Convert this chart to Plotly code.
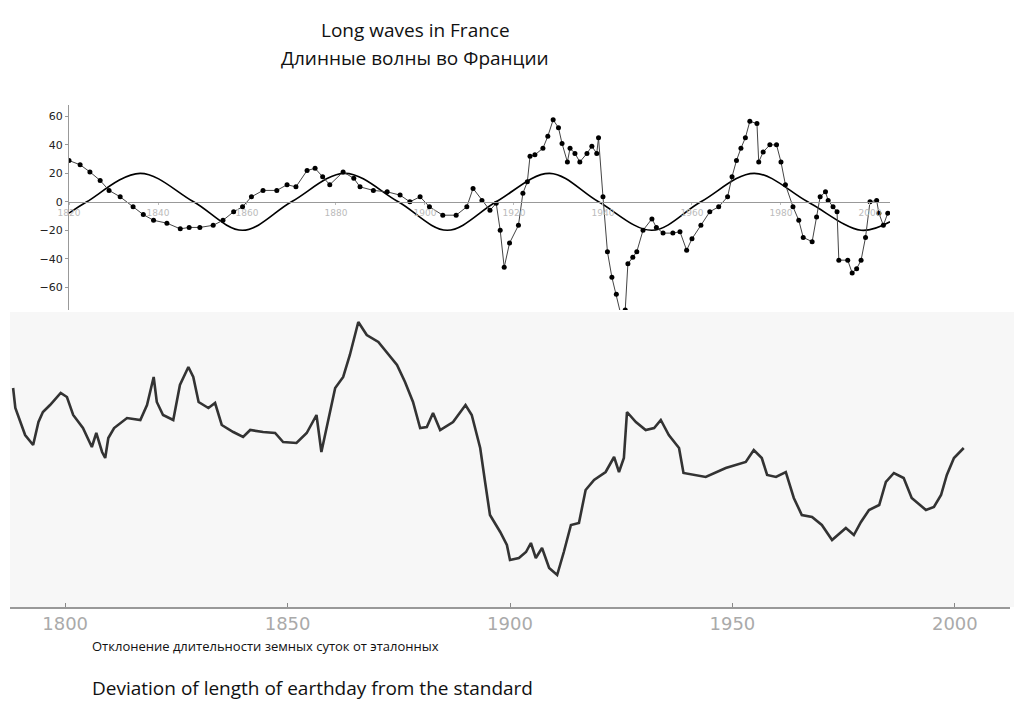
import plotly.graph_objects as go

W, H = 1006, 692  # page keeps an 8px margin round the figure
OFF = 8

# top chart: long waves in France
fr_years = [1820, 1822.5, 1824.7, 1827, 1829, 1831.5, 1834.4, 1836.7, 1839, 1842, 1845, 1847, 1849.4,
            1852.4, 1854.6, 1857, 1859, 1861, 1863.6, 1866.7, 1869, 1871, 1873.5, 1875.3, 1877, 1878.6,
            1881.6, 1884, 1885.4, 1888.4, 1891.5, 1894.4, 1896.6, 1898.9, 1901, 1904, 1907, 1909.4,
            1910.8, 1912.8, 1914.6, 1916, 1916.9, 1917.8, 1919, 1921, 1922, 1923, 1923.6, 1924.7, 1926.5,
            1927.6, 1928.8, 1930, 1930.8, 1932, 1932.6, 1933.7, 1934.8, 1936.4, 1937.5, 1938.6, 1939,
            1940, 1941, 1942, 1943, 1944, 1945, 1945.6, 1946.7, 1947.6, 1949, 1951, 1952, 1953.5, 1955.7,
            1957.3, 1958.8, 1960, 1962, 1964, 1966, 1968, 1969, 1970, 1971, 1972, 1973, 1974.6, 1975,
            1976, 1977.5, 1979, 1980, 1981, 1982.7, 1984, 1985, 1987, 1988, 1988.8, 1990, 1990.6, 1991.7,
            1992.6, 1993, 1995, 1996, 1997, 1998, 1999, 2000, 2001.5, 2002, 2003, 2004]
fr_values = [29, 26, 21, 15, 8, 3.5, -3.5, -9, -13, -15, -19, -18, -18,
             -16.5, -13, -7, -3.5, 3.5, 8, 8, 12, 10.5, 22, 23.5, 17.6, 12,
             21, 16.5, 10.5, 8, 7, 4.7, 0, 3.5, -3.5, -9.4, -9.4, -3.5,
             9.4, 1, -6, -1, -20, -46, -29, -16.5, 6, 14, 32, 33, 37.6,
             46, 57.6, 52, 41, 28, 37.6, 34, 28, 34, 39, 34, 45,
             3.5, -35, -53, -65, -79, -76, -43.5, -39, -35, -20, -12, -18, -22, -22,
             -21, -34, -26, -16.5, -7, -3.5, 3.5, 17.6, 29, 37.6, 45, 56.5, 55, 28,
             35, 40, 40, 28, 12, -3.5, -13, -25, -28, -10.6, 3.5, 7, 1, -3.5,
             -7, -41, -41, -50, -47, -41, -25, 0, 1, -8, -16.5, -8]

# fitted wave, read at its extremes and zero crossings
wave_years = [1820, 1824, 1836, 1848, 1859, 1870, 1882, 1894, 1905, 1916, 1928, 1939, 1951, 1962,
              1974, 1986, 1998, 2004.5]
wave_values = [-8, 0, 20, 0, -20, 0, 20, 0, -20, 0, 20, 0, -20, 0, 20, 0, -20, -14]

# bottom chart: length-of-day deviation (arbitrary units)
lod_years = [1788.3, 1788.8, 1791, 1792.8, 1794, 1795, 1796.6, 1799, 1800.4, 1801.8, 1804, 1806, 1807,
             1808.3, 1809, 1809.7, 1811, 1813.9, 1816.9, 1818.4, 1819.9, 1820.6, 1822, 1824.3, 1825.8,
             1827.7, 1828.8, 1830, 1832.2, 1833.7, 1835.2, 1837.8, 1840, 1841.6, 1844.5, 1847.2, 1849,
             1852, 1854.3, 1856.5, 1857.6, 1859, 1860.7, 1862.5, 1864, 1865.9, 1867.8, 1870.4, 1872.4,
             1874.6, 1876.4, 1878.2, 1879.8, 1881.3, 1882.7, 1884.3, 1887.2, 1890, 1891.4, 1893.3,
             1894.4, 1895.5, 1897.8, 1899.3, 1900, 1902, 1903.6, 1904.7, 1905.8, 1907.2, 1908.8, 1910.6,
             1912.1, 1913.7, 1915.5, 1917, 1918.9, 1921.5, 1923.4, 1924.5, 1925.6, 1926.3, 1928.3,
             1930.5, 1932.4, 1933.9, 1935.7, 1938, 1939, 1944, 1948.5, 1953, 1954.8, 1956.6, 1957.8,
             1959.8, 1962, 1963.8, 1965.6, 1967.9, 1970.1, 1972.4, 1975.5, 1977.3, 1978.9, 1980.7, 1983,
             1984.5, 1986.3, 1988.5, 1990.3, 1993.5, 1995.3, 1996.9, 1998.2, 1999.8, 2002]
lod_values = [219, 199, 172, 162, 185, 195, 202, 214, 210, 192, 179, 160, 174,
              155, 149, 169, 179, 189, 187, 202, 230, 205, 192, 187, 222,
              240, 230, 205, 199, 204, 182, 175, 170, 177, 175, 174, 165,
              164, 174, 192, 155, 185, 219, 230, 252, 285, 272, 265, 254,
              242, 225, 205, 179, 180, 194, 177, 185, 202, 192, 159,
              125, 92, 75, 62, 47, 49, 55, 64, 49, 59, 39, 32,
              55, 82, 84, 117, 127, 135, 150, 135, 149, 195, 185,
              177, 179, 187, 172, 159, 134, 130, 139, 145, 157, 149, 132,
              130, 135, 109, 92, 90, 82, 67, 79, 72, 85, 97, 102,
              125, 134, 129, 109, 97, 100, 112, 132, 149, 159]

top_ticks = list(range(1820, 2001, 20))
bottom_ticks = [1800, 1850, 1900, 1950, 2000]


def px(x):
    return min(max((x - OFF) / W, 0), 1)


def py(y):
    return min(max(1 - (y - OFF) / H, 0), 1)


fig = go.Figure()

fig.add_trace(go.Scatter(x=wave_years, y=wave_values, mode="lines", line=dict(color="black", width=1.6, shape="spline"),
                         xaxis="x", yaxis="y", hoverinfo="skip"))
fig.add_trace(go.Scatter(x=fr_years, y=fr_values, mode="lines+markers",
                         line=dict(color="#444", width=1), marker=dict(color="black", size=5),
                         xaxis="x", yaxis="y"))
fig.add_trace(go.Scatter(x=lod_years, y=lod_values, mode="lines", line=dict(color="#333", width=2.6),
                         xaxis="x2", yaxis="y2"))

fig.update_layout(
    width=W, height=H, margin=dict(l=0, r=0, t=0, b=0, autoexpand=False),
    paper_bgcolor="white", plot_bgcolor="rgba(0,0,0,0)", showlegend=False,
    font=dict(family="Open Sans"),
    xaxis=dict(domain=[px(69), px(890)], range=[1820, 2004.5], anchor="free", position=py(202),
               tickvals=top_ticks, ticks="outside", ticklen=2, tickcolor="#bbb",
               tickfont=dict(size=9, color="#bbb", family="DejaVu Sans"),
               showgrid=False, zeroline=False, showline=True, linecolor="#999", linewidth=1),
    yaxis=dict(domain=[py(310), py(105)], range=[-76, 68], tickvals=[-60, -40, -20, 0, 20, 40, 60],
               tickfont=dict(size=11, color="#222", family="DejaVu Sans"), ticks="outside", ticklen=3,
               tickcolor="#999", showgrid=False, zeroline=False, showline=True, linecolor="#999",
               anchor="x", position=0),
    xaxis2=dict(domain=[px(10), px(1010)], range=[1787.6, 2012.4], anchor="y2",
                tickvals=bottom_ticks, ticks="inside", ticklen=4, tickcolor="#888",
                tickfont=dict(size=18, color="#aaa", family="DejaVu Sans"),
                showgrid=False, zeroline=False, showline=True, linecolor="#999", linewidth=1.5),
    yaxis2=dict(domain=[py(607), py(312)], range=[0, 295], visible=False),
)

fig.add_shape(type="rect", xref="paper", yref="paper", x0=px(10), x1=1, y0=py(607), y1=py(312),
              fillcolor="#f7f7f7", line_width=0, layer="below")


def note(text, x, y, size, anchor="center"):
    fig.add_annotation(text=text, x=px(x), y=py(y), xref="paper", yref="paper", xanchor=anchor,
                       yanchor="middle", showarrow=False, font=dict(size=size, color="#111"))


note("Long waves in France", 415, 30, 19)
note("Длинные волны во Франции", 415, 58, 19)
note("Отклонение длительности земных суток от эталонных", 90, 646, 13, "left")
note("Deviation of length of earthday from the standard", 90, 688, 19, "left")

fig.write_html("out.html")
